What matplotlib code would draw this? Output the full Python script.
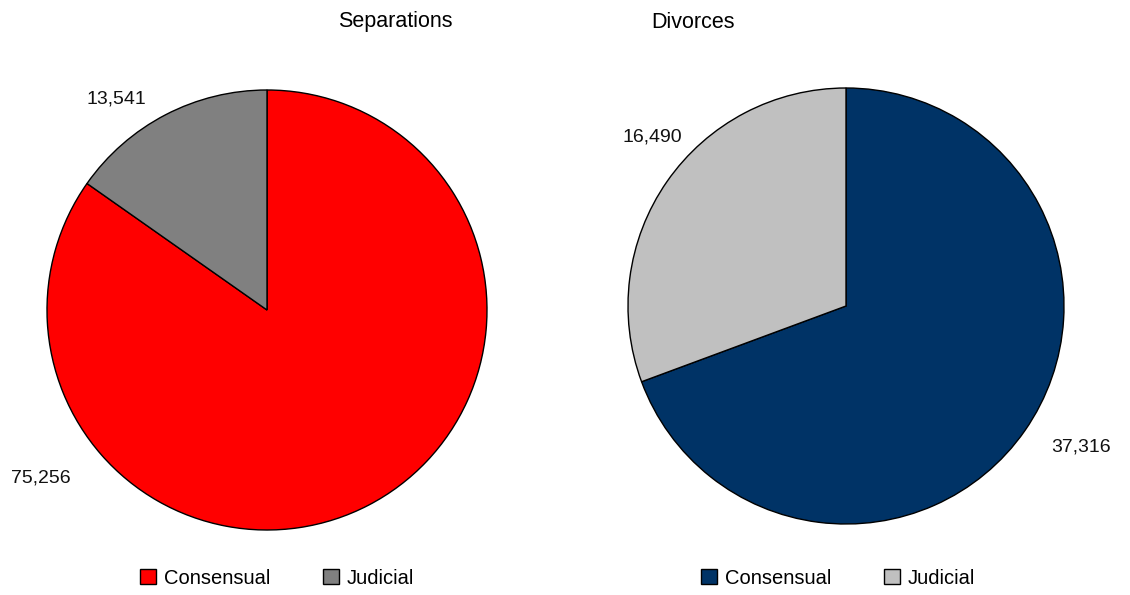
import matplotlib.pyplot as plt
import numpy as np

plt.rcParams['font.family'] = ['Liberation Sans', 'DejaVu Sans']

categories = ['Consensual', 'Judicial']
separations = [75256, 13541]
divorces = [37316, 16490]
sep_colors = ['#ff0000', '#808080']
div_colors = ['#003366', '#c0c0c0']

W, H = 1130, 595
fig = plt.figure(figsize=(W / 100, H / 100), dpi=100)


def pie_axes(cx, cy, r, x0, x1, y0, y1):
    # axes in pixel box (y from top), data unit = pie radius
    ax = fig.add_axes([x0 / W, 1 - y1 / H, (x1 - x0) / W, (y1 - y0) / H])
    ax.set_xlim((x0 - cx) / r, (x1 - cx) / r)
    ax.set_ylim((cy - y1) / r, (cy - y0) / r)
    ax.set_aspect('equal')
    ax.axis('off')
    return ax


def draw(ax, values, colors, label_pos):
    wedges, _ = ax.pie(values, colors=colors, startangle=90, counterclock=False,
                       radius=1, center=(0, 0), frame=True,
                       wedgeprops=dict(edgecolor='black', linewidth=1.0))
    ax.axis('off')
    for v, (ang, dist) in zip(values, label_pos):
        a = np.radians(ang)
        ax.text(dist * np.cos(a), dist * np.sin(a), f'{v:,}', fontsize=14,
                ha='center', va='center', color='#111111')
    return wedges


ax1 = pie_axes(267, 310, 220, 0, 560, 45, 575)
w1 = draw(ax1, separations, sep_colors, [(216.7, 1.28), (125.5, 1.18)])
ax2 = pie_axes(846, 306, 218, 570, 1130, 45, 575)
w2 = draw(ax2, divorces, div_colors, [(-31, 1.26), (139, 1.18)])

fig.text(395 / W, 1 - 22 / H, 'Separations', fontsize=15.5, ha='center', va='center')
fig.text(693 / W, 1 - 22 / H, 'Divorces', fontsize=15.5, ha='center', va='center')

for wedges, cx in [(w1, 277), (w2, 838)]:
    fig.legend(wedges, categories, loc='center', bbox_to_anchor=(cx / W, 1 - 578 / H),
               ncol=2, frameon=False, fontsize=14.5, handlelength=0.8,
               handleheight=0.8, handletextpad=0.4, columnspacing=2.6)

fig.savefig('out.png', dpi=100, facecolor='white')
